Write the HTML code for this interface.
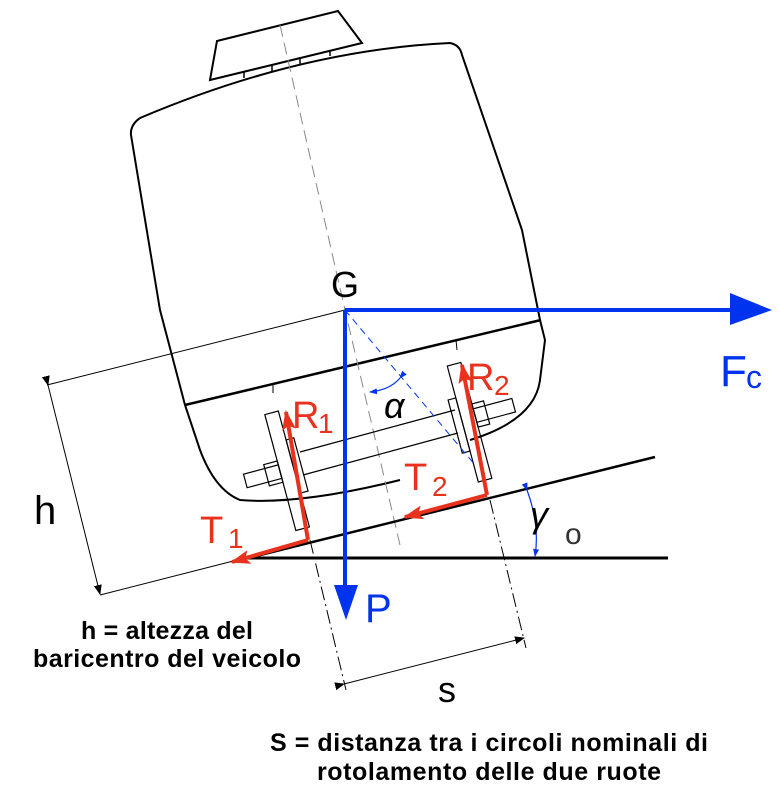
<!DOCTYPE html>
<html><head><meta charset="utf-8"><style>
html,body{margin:0;padding:0;background:#fff;}
svg{display:block;}
text{font-family:"Liberation Sans",sans-serif;}
</style></head><body>
<svg width="780" height="794" viewBox="0 0 780 794" xmlns="http://www.w3.org/2000/svg">
<defs>
<marker id="ab" markerWidth="10" markerHeight="10" refX="9" refY="5" orient="auto" markerUnits="userSpaceOnUse"><path d="M0,1 L10,5 L0,9z" fill="#000"/></marker>
<marker id="ar" markerWidth="20" markerHeight="14" refX="18" refY="7" orient="auto" markerUnits="userSpaceOnUse"><path d="M0,0 L20,7 L0,14 L4,7z" fill="#e8321e"/></marker>
<marker id="abl" markerWidth="8" markerHeight="8" refX="7" refY="4" orient="auto" markerUnits="userSpaceOnUse"><path d="M0,1 L8,4 L0,7z" fill="#0033ee"/></marker>
</defs>
<path d="M217,41 L338,11 L362,43 L210,80 Z" fill="none" stroke="#000" stroke-width="2"/>
<path d="M244,72 L244,78 M272,64 L272,71 M300,57 L300,64 M330,50 L330,56" stroke="#000" stroke-width="1.5"/>
<path d="M140,118 Q300,50 450,43 Q460,45 462,55 L522,230 L540,320 L545,340 L540,380 Q535,420 470,440 M140,118 Q130,125 131,135 L160,310 L185,405 L200,450 Q215,490 240,500 Q300,505 400,480" fill="none" stroke="#000" stroke-width="2"/>
<path d="M185,405 L541,320" stroke="#000" stroke-width="2.5"/>
<path d="M280,25 L345,310 L400,545" stroke="#888" stroke-width="1" stroke-dasharray="12,6" fill="none"/>
<path d="M456,340 L457,350 M273,385 L273,393" stroke="#000" stroke-width="1"/>
<path d="M300,452 L455,410 M303,475 L458,433" stroke="#000" stroke-width="1.2"/>
<g transform="rotate(-15 290 470)" fill="none" stroke="#000" stroke-width="1.2">
<rect x="280" y="410" width="14" height="120"/>
<rect x="294" y="440" width="8" height="55"/>
<rect x="244" y="462" width="36" height="14"/>
<rect x="266" y="458" width="14" height="22"/>
</g>
<g transform="rotate(-15 470 420)" fill="none" stroke="#000" stroke-width="1.2">
<rect x="462" y="362" width="14" height="120"/>
<rect x="454" y="395" width="8" height="55"/>
<rect x="476" y="410" width="40" height="14"/>
<rect x="476" y="405" width="12" height="24"/>
</g>
<path d="M240,560 L655,457" stroke="#000" stroke-width="2.5"/>
<path d="M240,558 L668,558" stroke="#000" stroke-width="3"/>
<path d="M345,310 L47,385 M100,595 L245,558" stroke="#000" stroke-width="1"/>
<path d="M48,385 L100,594" stroke="#000" stroke-width="1" marker-end="url(#ab)" marker-start="url(#ab)"/>
<path d="M310,540 L346,690 M490,500 L526,648" stroke="#000" stroke-width="1" stroke-dasharray="14,4,2,4"/>
<path d="M344,684 L524,638" stroke="#000" stroke-width="1" marker-end="url(#ab)" marker-start="url(#ab)"/>
<path d="M345,310 L475,465" stroke="#0033ee" stroke-width="1" stroke-dasharray="7,5"/>
<path d="M400,378 Q390,390 370,392" fill="none" stroke="#0033ee" stroke-width="1.2" marker-end="url(#abl)" marker-start="url(#abl)"/>
<path d="M527,490 Q540,525 535,556" fill="none" stroke="#0033ee" stroke-width="1.2" marker-end="url(#abl)" marker-start="url(#abl)"/>
<path d="M345,310 L732,310" stroke="#0033ee" stroke-width="4"/>
<path d="M730,293 L772,310 L730,325 Z" fill="#0033ee"/>
<path d="M345,310 L345,588" stroke="#0033ee" stroke-width="4"/>
<path d="M334,585 L346,620 L358,585 Z" fill="#0033ee"/>
<path d="M308,540 L286,412" stroke="#e8321e" stroke-width="4" marker-end="url(#ar)"/>
<path d="M308,540 L232,562" stroke="#e8321e" stroke-width="4" marker-end="url(#ar)"/>
<path d="M487,495 L462,365" stroke="#e8321e" stroke-width="4" marker-end="url(#ar)"/>
<path d="M487,495 L405,517" stroke="#e8321e" stroke-width="4" marker-end="url(#ar)"/>
<text x="331" y="297" font-size="36">G</text>
<text x="720" y="386" font-size="44" fill="#0033ee">F</text>
<text x="746" y="388" font-size="32" fill="#0033ee">c</text>
<text x="292" y="428" font-size="38" fill="#e8321e">R</text>
<text x="318" y="433" font-size="28" fill="#e8321e">1</text>
<text x="467" y="390" font-size="38" fill="#e8321e">R</text>
<text x="494" y="395" font-size="28" fill="#e8321e">2</text>
<text x="200" y="543" font-size="38" fill="#e8321e">T</text>
<text x="228" y="548" font-size="28" fill="#e8321e">1</text>
<text x="404" y="490" font-size="38" fill="#e8321e">T</text>
<text x="432" y="496" font-size="28" fill="#e8321e">2</text>
<text x="384" y="418" font-size="36" font-style="italic" font-family="Liberation Serif">α</text>
<text x="530" y="527" font-size="36" font-style="italic" font-family="Liberation Serif">γ</text>
<text x="565" y="544" font-size="30" fill="#333">o</text>
<text x="34" y="524" font-size="40">h</text>
<text x="365" y="622" font-size="40" fill="#0033ee">P</text>
<text x="438" y="702" font-size="36">s</text>
<text x="167" y="639" font-size="25" font-weight="bold" text-anchor="middle" textLength="172">h = altezza del</text>
<text x="167" y="667" font-size="25" font-weight="bold" text-anchor="middle" textLength="268">baricentro del veicolo</text>
<text x="489" y="751" font-size="25" font-weight="bold" text-anchor="middle" textLength="438">S = distanza tra i circoli nominali di</text>
<text x="489" y="780" font-size="25" font-weight="bold" text-anchor="middle" textLength="344">rotolamento delle due ruote</text>
</svg>
</body></html>
